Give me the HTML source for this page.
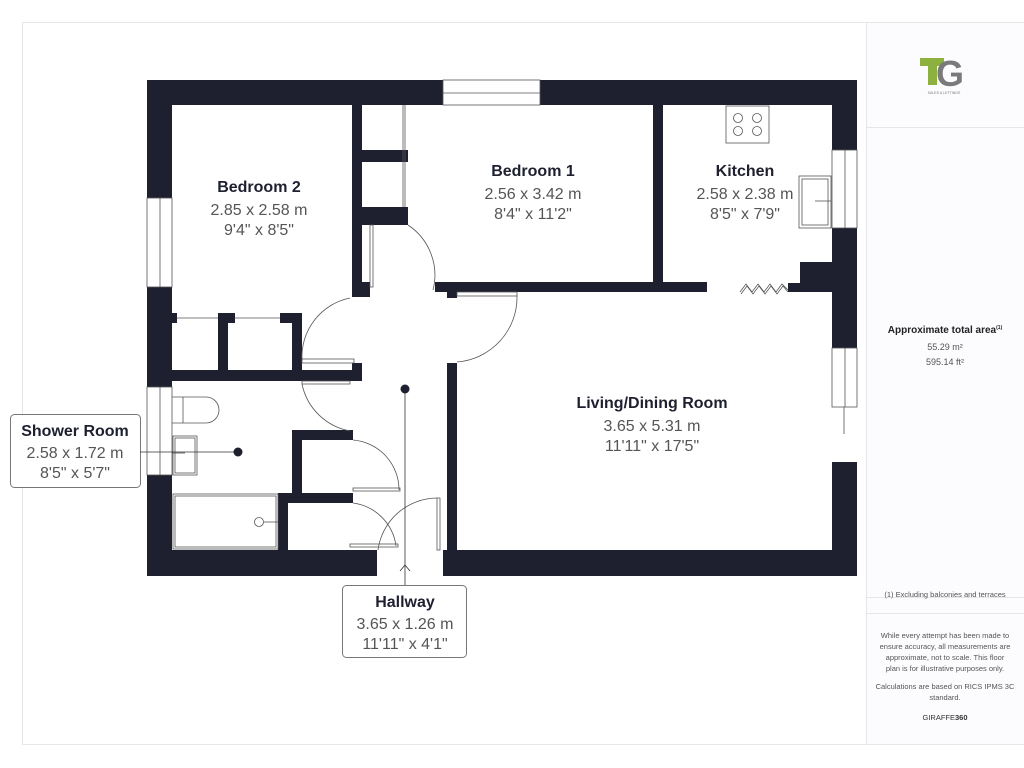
<!DOCTYPE html>
<html><head><meta charset="utf-8"><style>
html,body{margin:0;padding:0;background:#fff;}
svg{display:block;font-family:"Liberation Sans",sans-serif;}
.b{font-weight:bold;fill:#1e2030;}
.d{fill:#555;}
</style></head><body>
<svg width="1024" height="768" viewBox="0 0 1024 768" xmlns="http://www.w3.org/2000/svg">
<rect x="0" y="0" width="1024" height="768" fill="#fff"/>
<rect x="22.5" y="22.5" width="1010" height="722" fill="none" stroke="#e6e6ea"/>
<rect x="866" y="23" width="158" height="721" fill="#fcfcfe"/>
<line x1="866.5" y1="22" x2="866.5" y2="745" stroke="#e6e6ea"/>
<line x1="866" y1="127.5" x2="1024" y2="127.5" stroke="#e6e6ea"/>
<line x1="866" y1="597.5" x2="1024" y2="597.5" stroke="#e6e6ea"/>
<line x1="866" y1="613.5" x2="1024" y2="613.5" stroke="#e6e6ea"/>
<!-- logo -->
<rect x="920" y="58" width="24" height="8" fill="#8cb13f"/>
<rect x="928" y="58" width="9" height="27" fill="#8cb13f"/>
<text x="936" y="86" font-size="36" font-weight="bold" fill="#7a7a7a">G</text>
<text x="944" y="94" font-size="3.5" fill="#777" text-anchor="middle">SALES &amp; LETTINGS</text>
<text x="945" y="333" font-size="10" font-weight="bold" fill="#222" text-anchor="middle">Approximate total area<tspan font-size="5" dy="-4">(1)</tspan></text>
<text x="945" y="350" font-size="9" fill="#555" text-anchor="middle">55.29 m²</text>
<text x="945" y="365" font-size="9" fill="#555" text-anchor="middle">595.14 ft²</text>
<text x="945" y="599" font-size="7.5" fill="#555" text-anchor="middle" dy="-2">(1) Excluding balconies and terraces</text>
<g font-size="7.5" fill="#555" text-anchor="middle">
<text x="945" y="638">While every attempt has been made to</text>
<text x="945" y="649">ensure accuracy, all measurements are</text>
<text x="945" y="660">approximate, not to scale. This floor</text>
<text x="945" y="671">plan is for illustrative purposes only.</text>
<text x="945" y="689">Calculations are based on RICS IPMS 3C</text>
<text x="945" y="700">standard.</text>
<text x="945" y="720" fill="#333">GIRAFFE<tspan font-weight="bold">360</tspan></text>
</g>
<!-- walls -->
<g fill="#1e2030">
<rect x="147" y="80" width="296" height="25"/>
<rect x="540" y="80" width="317" height="25"/>
<rect x="147" y="80" width="25" height="118"/>
<rect x="147" y="287" width="25" height="100"/>
<rect x="147" y="475" width="25" height="101"/>
<rect x="147" y="550" width="230" height="26"/>
<rect x="443" y="550" width="414" height="26"/>
<rect x="832" y="80" width="25" height="70"/>
<rect x="832" y="228" width="25" height="120"/>
<rect x="832" y="462" width="25" height="114"/>
<rect x="800" y="262" width="32" height="30"/>
<rect x="788" y="283" width="14" height="9"/>
<rect x="352" y="105" width="10" height="192"/>
<rect x="352" y="282" width="18" height="15"/>
<rect x="362" y="150" width="46" height="12"/>
<rect x="362" y="207" width="46" height="18"/>
<rect x="398" y="150" width="10" height="12"/>
<rect x="435" y="282" width="272" height="10"/>
<rect x="653" y="105" width="10" height="177"/>
<rect x="447" y="292" width="10" height="6"/>
<rect x="172" y="313" width="5" height="10"/>
<rect x="218" y="313" width="17" height="10"/>
<rect x="218" y="313" width="10" height="62"/>
<rect x="280" y="313" width="22" height="10"/>
<rect x="292" y="313" width="10" height="62"/>
<rect x="172" y="370" width="190" height="11"/>
<rect x="352" y="363" width="10" height="18"/>
<rect x="292" y="430" width="61" height="10"/>
<rect x="292" y="430" width="10" height="65"/>
<rect x="278" y="493" width="75" height="10"/>
<rect x="278" y="493" width="10" height="57"/>
<rect x="447" y="363" width="10" height="190"/>
</g>
<!-- windows -->
<g fill="none" stroke="#555" stroke-width="0.8">
<rect x="443" y="80" width="97" height="25"/><line x1="443" y1="93" x2="540" y2="93"/>
<rect x="147" y="198" width="25" height="89"/><line x1="160" y1="198" x2="160" y2="287"/>
<rect x="147" y="387" width="25" height="88"/><line x1="160" y1="387" x2="160" y2="475"/>
<rect x="832" y="150" width="25" height="78"/><line x1="845" y1="150" x2="845" y2="228"/>
<rect x="832" y="348" width="25" height="59"/><line x1="845" y1="348" x2="845" y2="407"/>
<line x1="844" y1="407" x2="844" y2="434"/>
<line x1="403" y1="105" x2="403" y2="207"/><line x1="405" y1="105" x2="405" y2="207"/>
<rect x="370" y="225" width="3" height="62"/>
<line x1="177" y1="318" x2="218" y2="318"/><line x1="235" y1="318" x2="280" y2="318"/>
<rect x="302" y="359" width="52" height="4"/>
<rect x="302" y="381" width="48" height="3"/>
<rect x="353" y="488" width="47" height="3"/>
<rect x="350" y="544" width="48" height="3"/>
<rect x="437" y="498" width="3" height="52"/>
<rect x="457" y="292" width="60" height="4"/>
<path d="M408 225 A 60 60 0 0 1 433 290"/>
<path d="M302 360 A 60 60 0 0 1 350 298"/>
<path d="M457 362 A 65 65 0 0 0 517 296"/>
<path d="M302 384 A 60 60 0 0 0 350 431"/>
<path d="M353 440 A 50 50 0 0 1 399 490"/>
<path d="M353 503 A 50 50 0 0 1 396 546"/>
<path d="M378 550 A 60 60 0 0 1 437 498"/>
<rect x="726" y="106" width="43" height="37"/>
<circle cx="738" cy="118" r="4.5"/><circle cx="757" cy="118" r="4.5"/>
<circle cx="738" cy="131" r="4.5"/><circle cx="757" cy="131" r="4.5"/>
<rect x="799" y="176" width="32" height="52"/><rect x="802" y="179" width="26" height="46"/>
<line x1="815" y1="201" x2="831" y2="201"/>
<path d="M172 397 H206 A13 13 0 0 1 206 423 H172"/><line x1="183" y1="397" x2="183" y2="423"/>
<rect x="173" y="436" width="24" height="39"/><rect x="175" y="438" width="20" height="35"/>
<line x1="172" y1="453" x2="185" y2="453"/>
<rect x="173" y="494" width="105" height="55"/><rect x="175" y="496" width="101" height="51"/>
<circle cx="259" cy="522" r="4.5"/><line x1="264" y1="522" x2="278" y2="522"/>
<path d="M740 292 L746 284 L752 292 L758 284 L764 292 L770 284 L776 292 L782 284 L788 290"/>
<path d="M741 294 L747 286 L753 294 L759 286 L765 294 L771 286 L777 294 L783 286 L788 292"/>
</g>
<text x="259" y="192" font-size="16" class="b" text-anchor="middle">Bedroom 2</text>
<text x="259" y="215" font-size="16" class="d" text-anchor="middle">2.85 x 2.58 m</text>
<text x="259" y="235" font-size="16" class="d" text-anchor="middle">9'4" x 8'5"</text>
<text x="533" y="176" font-size="16" class="b" text-anchor="middle">Bedroom 1</text>
<text x="533" y="199" font-size="16" class="d" text-anchor="middle">2.56 x 3.42 m</text>
<text x="533" y="219" font-size="16" class="d" text-anchor="middle">8'4" x 11'2"</text>
<text x="745" y="176" font-size="16" class="b" text-anchor="middle">Kitchen</text>
<text x="745" y="199" font-size="16" class="d" text-anchor="middle">2.58 x 2.38 m</text>
<text x="745" y="219" font-size="16" class="d" text-anchor="middle">8'5" x 7'9"</text>
<text x="652" y="408" font-size="16" class="b" text-anchor="middle">Living/Dining Room</text>
<text x="652" y="431" font-size="16" class="d" text-anchor="middle">3.65 x 5.31 m</text>
<text x="652" y="451" font-size="16" class="d" text-anchor="middle">11'11" x 17'5"</text>
<rect x="10.5" y="414.5" width="130" height="73" rx="4" fill="#fff" stroke="#777"/>
<line x1="140" y1="452" x2="238" y2="452" stroke="#333" stroke-width="0.8"/>
<circle cx="238" cy="452" r="4.5" fill="#1e2030"/>
<text x="75" y="436" font-size="16" class="b" text-anchor="middle">Shower Room</text>
<text x="75" y="458" font-size="16" class="d" text-anchor="middle">2.58 x 1.72 m</text>
<text x="75" y="478" font-size="16" class="d" text-anchor="middle">8'5" x 5'7"</text>
<line x1="405" y1="389" x2="405" y2="585" stroke="#333" stroke-width="0.8"/>
<circle cx="405" cy="389" r="4.5" fill="#1e2030"/>
<path d="M400 571 L405 565 L410 571" fill="none" stroke="#333" stroke-width="0.8"/>
<rect x="342.5" y="585.5" width="124" height="72" rx="4" fill="#fff" stroke="#777"/>
<text x="405" y="607" font-size="16" class="b" text-anchor="middle">Hallway</text>
<text x="405" y="629" font-size="16" class="d" text-anchor="middle">3.65 x 1.26 m</text>
<text x="405" y="649" font-size="16" class="d" text-anchor="middle">11'11" x 4'1"</text>
</svg>
</body></html>
